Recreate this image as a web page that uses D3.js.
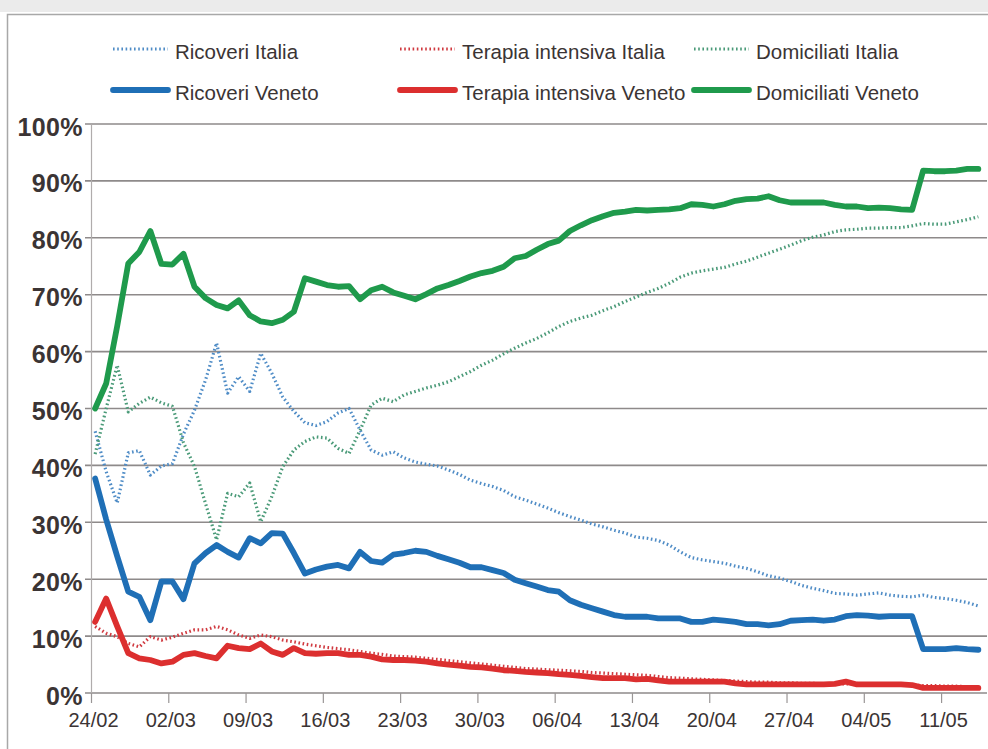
<!DOCTYPE html>
<html>
<head>
<meta charset="utf-8">
<script src="https://cdn.jsdelivr.net/npm/d3@7"></script>
<style>
  html, body { margin: 0; padding: 0; background: #ffffff; }
  svg { display: block; }
  text { font-family: "Liberation Sans", Arial, sans-serif; fill: #3b3434; }
</style>
</head>
<body>
<svg id="chart" width="988" height="749"></svg>
<script>
// ---- DATA (percent values, one per day from 24/02/2020 to 14/05/2020) ----
const startDate = "24/02/2020";
const dayCount = 81;
const tickLabels = ["24/02","02/03","09/03","16/03","23/03","30/03","06/04","13/04","20/04","27/04","04/05","11/05"];
const yTickValues = [0,10,20,30,40,50,60,70,80,90,100];

const seriesNames = ["Ricoveri Italia","Terapia intensiva Italia","Domiciliati Italia",
                     "Ricoveri Veneto","Terapia intensiva Veneto","Domiciliati Veneto"];

const ricoveriItalia = [46.0,38.9,33.4,42.2,42.6,38.3,39.9,40.3,45.5,49.7,
  55.0,61.5,52.7,55.6,53.0,59.7,56.2,52.0,49.5,47.5,
  47.0,47.7,49.2,50.0,46.2,42.7,41.8,42.4,41.3,40.6,
  40.2,39.9,39.2,38.4,37.4,36.8,36.3,35.6,34.5,33.9,
  33.2,32.5,31.7,31.0,30.4,29.7,29.2,28.6,28.1,27.4,
  27.2,26.8,26.0,24.8,23.8,23.4,23.1,22.8,22.3,21.9,
  21.3,20.6,20.2,19.6,18.9,18.4,18.0,17.5,17.4,17.2,
  17.4,17.6,17.2,17.0,16.9,17.2,16.8,16.6,16.3,15.9,15.3];

const terapiaItalia = [11.7,10.5,9.9,8.7,8.1,9.9,9.3,9.8,10.5,11.1,
  11.1,11.7,11.1,10.2,9.6,10.2,9.9,9.3,9.0,8.6,
  8.3,8.0,7.8,7.6,7.3,7.0,6.8,6.5,6.4,6.3,
  6.1,5.9,5.7,5.5,5.3,5.1,4.9,4.7,4.5,4.3,
  4.2,4.1,4.0,3.9,3.8,3.6,3.5,3.4,3.3,3.2,
  3.1,2.9,2.7,2.6,2.5,2.4,2.3,2.2,2.1,2.0,
  1.9,1.9,1.8,1.8,1.7,1.7,1.6,1.6,1.6,1.5,
  1.5,1.5,1.4,1.4,1.4,1.3,1.3,1.2,1.2,1.1,1.1];

const domiciliatiItalia = [42.0,50.0,57.6,49.4,50.9,52.0,51.0,50.4,44.0,39.8,
  33.3,26.9,35.1,34.5,36.9,30.1,34.5,39.8,42.7,44.2,
  45.0,44.8,43.0,42.1,46.2,50.6,51.8,51.2,52.4,53.0,
  53.6,54.1,54.7,55.6,56.5,57.6,58.5,59.6,60.6,61.5,
  62.3,63.3,64.4,65.3,65.9,66.4,67.2,67.9,68.8,69.6,
  70.4,71.1,72.0,73.1,73.8,74.2,74.5,74.8,75.4,75.9,
  76.6,77.3,78.0,78.7,79.5,80.1,80.5,81.1,81.4,81.5,
  81.7,81.7,81.8,81.8,82.1,82.5,82.4,82.4,82.8,83.2,83.7];

const ricoveriVeneto = [37.7,30.5,24.0,17.8,16.9,12.8,19.6,19.6,16.5,22.8,
  24.6,26.0,24.8,23.8,27.2,26.3,28.1,28.0,24.6,21.0,
  21.7,22.2,22.5,21.9,24.8,23.2,22.9,24.3,24.6,25.0,
  24.8,24.1,23.5,22.9,22.1,22.1,21.6,21.1,19.9,19.3,
  18.7,18.1,17.8,16.3,15.5,14.9,14.3,13.7,13.4,13.4,
  13.4,13.1,13.1,13.1,12.5,12.5,12.9,12.7,12.5,12.1,
  12.1,11.9,12.1,12.7,12.8,12.9,12.7,12.9,13.5,13.7,
  13.6,13.4,13.5,13.5,13.5,7.7,7.7,7.7,7.9,7.7,7.6];

const terapiaVeneto = [12.5,16.6,11.7,7.0,6.1,5.8,5.2,5.5,6.7,7.0,
  6.5,6.1,8.3,7.9,7.7,8.7,7.3,6.7,7.9,7.0,
  6.9,7.0,7.0,6.7,6.7,6.4,5.9,5.8,5.8,5.7,
  5.5,5.2,5.0,4.8,4.6,4.5,4.3,4.0,3.9,3.7,
  3.6,3.5,3.3,3.2,3.0,2.8,2.6,2.6,2.6,2.4,
  2.5,2.2,2.0,2.0,2.0,2.0,2.0,2.0,1.7,1.5,
  1.5,1.5,1.5,1.5,1.5,1.5,1.5,1.6,2.0,1.5,
  1.5,1.5,1.5,1.5,1.4,0.9,0.9,0.9,0.9,0.9,0.9];

const domiciliatiVeneto = [50.0,54.4,64.5,75.5,77.5,81.2,75.4,75.3,77.2,71.4,
  69.4,68.2,67.6,69.0,66.4,65.3,65.0,65.6,67.0,72.9,
  72.3,71.7,71.4,71.5,69.2,70.8,71.4,70.4,69.8,69.2,
  70.1,71.1,71.7,72.4,73.2,73.8,74.2,74.9,76.4,76.8,
  77.9,78.9,79.5,81.2,82.2,83.1,83.8,84.4,84.6,84.9,
  84.8,84.9,85.0,85.2,85.9,85.8,85.5,85.9,86.5,86.8,
  86.9,87.3,86.6,86.2,86.2,86.2,86.2,85.8,85.5,85.5,
  85.2,85.3,85.2,85.0,84.9,91.8,91.7,91.7,91.8,92.1,92.1];

// ---- CHART ----
const svg = d3.select("#chart");
const W = 988, H = 749;

const parse = d3.timeParse("%d/%m/%Y");
const start = parse(startDate);
const endDate = d3.timeDay.offset(start, dayCount - 1);
const dates = d3.range(dayCount).map(i => d3.timeHour.offset(d3.timeDay.offset(start, i), 9));
const tickDates = tickLabels.map(t => parse(t + "/2020"));

const x = d3.scaleTime().domain([start, endDate]).range([91, 974.2]);
const y = d3.scaleLinear().domain([0, 100]).range([693, 124]);

// frame
svg.append("rect").attr("x", 0).attr("y", 0).attr("width", W).attr("height", 12).attr("fill", "#ebebeb");
svg.append("path").attr("d", `M7.5,${H} V14.5 H${W}`).attr("fill", "none").attr("stroke", "#a8a8a8").attr("stroke-width", 1.5);

// gridlines
const grid = svg.append("g").attr("class", "grid");
grid.selectAll("line").data(yTickValues).join("line")
  .attr("x1", 85).attr("x2", 987)
  .attr("y1", d => y(d)).attr("y2", d => y(d))
  .attr("stroke", "#8e8a8a").attr("stroke-width", 1.6);

// y axis
const yAxis = svg.append("g").attr("transform", "translate(91,0)")
  .call(d3.axisLeft(y).tickValues(yTickValues).tickFormat(d => d + "%").tickSize(0).tickPadding(8));
yAxis.select(".domain").attr("stroke", "#b0acac").attr("stroke-width", 1.2);
yAxis.selectAll("text")
  .attr("dy", "0.44em")
  .style("font-size", "25px").style("font-weight", "bold").style("letter-spacing", "0.4px").style("fill", "#3b3434");

// x axis
const xAxis = svg.append("g").attr("transform", "translate(0,693)")
  .call(d3.axisBottom(x).tickValues(tickDates).tickFormat(d3.timeFormat("%d/%m")).tickSize(10).tickPadding(10));
xAxis.select(".domain").remove();
xAxis.selectAll(".tick line").attr("stroke", "#9a9696").attr("stroke-width", 1.2);
xAxis.selectAll("text")
  .attr("dx", "2")
  .style("font-size", "20px").style("fill", "#3b3434");

// lines
const series = [
  {name: seriesNames[0], values: ricoveriItalia,   color: "#4f8cc6", dotted: true},
  {name: seriesNames[1], values: terapiaItalia,    color: "#d03a40", dotted: true},
  {name: seriesNames[2], values: domiciliatiItalia,color: "#4a9a78", dotted: true},
  {name: seriesNames[3], values: ricoveriVeneto,   color: "#1f6fb6", dotted: false},
  {name: seriesNames[4], values: terapiaVeneto,    color: "#dc2f2f", dotted: false},
  {name: seriesNames[5], values: domiciliatiVeneto,color: "#1f9a4c", dotted: false}
];

const line = d3.line().x((d, i) => x(dates[i])).y(d => y(d));

const lineG = svg.append("g");
series.forEach(s => {
  const p = lineG.append("path").datum(s.values)
    .attr("d", line)
    .attr("fill", "none")
    .attr("stroke", s.color)
    .attr("stroke-linejoin", "round");
  if (s.dotted) {
    p.attr("stroke-width", 3.2).attr("stroke-dasharray", "1.6,2.6");
  } else {
    p.attr("stroke-width", 5.8).attr("stroke-linecap", "round");
  }
});

// legend
const legendCols = [113, 400, 694];
const legendRows = [49, 90];
const legend = svg.append("g");
series.forEach((s, i) => {
  const col = i % 3, row = Math.floor(i / 3);
  const lx = legendCols[col], ly = legendRows[row];
  const g = legend.append("g");
  g.append("line")
    .attr("x1", lx).attr("x2", lx + 55).attr("y1", ly).attr("y2", ly)
    .attr("stroke", s.color)
    .attr("stroke-width", s.dotted ? 3.2 : 5.8)
    .attr("stroke-dasharray", s.dotted ? "1.6,2.6" : null)
    .attr("stroke-linecap", s.dotted ? null : "round");
  g.append("text")
    .attr("x", lx + 62).attr("y", ly + 10)
    .style("font-size", "20.5px")
    .text(s.name);
});
</script>
</body>
</html>
